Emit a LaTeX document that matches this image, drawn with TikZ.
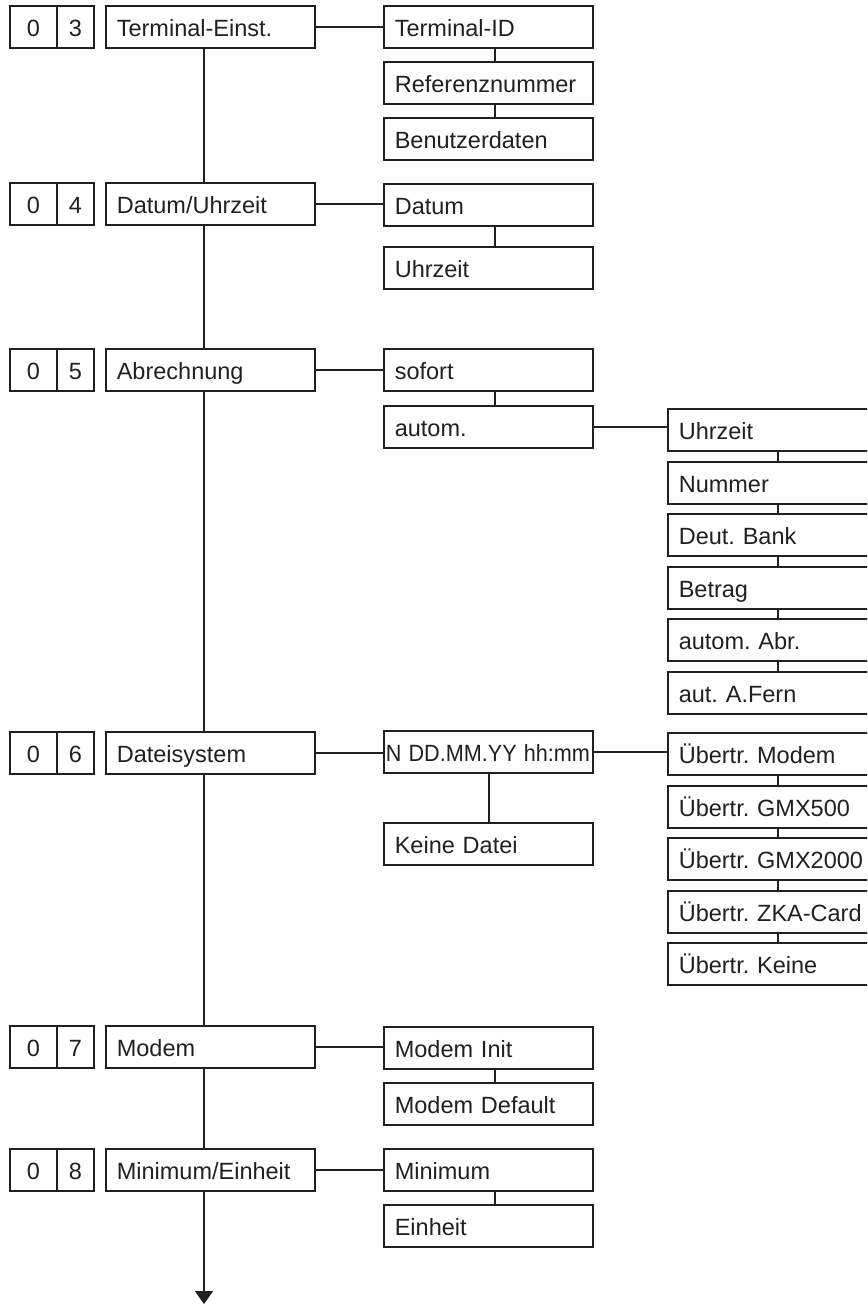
\documentclass[tikz,border=0pt]{standalone}
\usepackage{fontspec}
\usepackage{graphicx}
\setmainfont{Liberation Sans}
\usetikzlibrary{arrows.meta}
\definecolor{ink}{HTML}{231F20}
\frenchspacing
\begin{document}
\begin{tikzpicture}[x=1pt,y=-1pt,
  box/.style={draw=ink,line width=1.6pt,anchor=north west,minimum height=42pt,inner ysep=0pt,inner xsep=11pt,text width=187pt,text height=21pt,text depth=1pt,align=left,font=\fontsize{23.5}{26}\selectfont,text=ink},
  wbox/.style={box,text width=200pt},
  num/.style={draw=ink,line width=1.6pt,anchor=north west,minimum height=42pt,inner sep=0pt,text height=21pt,text depth=1pt,font=\fontsize{23.5}{26}\selectfont,text=ink},
  ln/.style={draw=ink,line width=1.6pt}]
\useasboundingbox (0,0) rectangle (867,1305);
\clip (0,0) rectangle (867,1305);
% spine coordinates
\coordinate (sp) at (204,0);
\coordinate (sc) at (495,0);
\coordinate (sn) at (489,0);
\coordinate (rc) at (778,0);
\coordinate (end) at (204,1304);
% main column
\node[num,minimum width=47pt] (a3) at (9,5) {0};
\node[num,minimum width=37pt] (b3) at (56,5) {3};
\node[box] (m3) at (105,5) {Terminal-Einst.};
\node[num,minimum width=47pt] (a4) at (9,182) {0};
\node[num,minimum width=37pt] (b4) at (56,182) {4};
\node[box] (m4) at (105,182) {Datum/Uhrzeit};
\node[num,minimum width=47pt] (a5) at (9,348) {0};
\node[num,minimum width=37pt] (b5) at (56,348) {5};
\node[box] (m5) at (105,348) {Abrechnung};
\node[num,minimum width=47pt] (a6) at (9,731) {0};
\node[num,minimum width=37pt] (b6) at (56,731) {6};
\node[box] (m6) at (105,731) {Dateisystem};
\node[num,minimum width=47pt] (a7) at (9,1025) {0};
\node[num,minimum width=37pt] (b7) at (56,1025) {7};
\node[box] (m7) at (105,1025) {Modem};
\node[num,minimum width=47pt] (a8) at (9,1148) {0};
\node[num,minimum width=37pt] (b8) at (56,1148) {8};
\node[box] (m8) at (105,1148) {Minimum/Einheit};
% sub column
\node[box] (t1) at (383,5) {Terminal-ID};
\node[box] (t2) at (383,61) {Referenznummer};
\node[box] (t3) at (383,117) {Benutzerdaten};
\node[box] (d1) at (383,183) {Datum};
\node[box] (d2) at (383,246) {Uhrzeit};
\node[box] (s1) at (383,348) {sofort};
\node[box] (s2) at (383,405) {autom.};
\node[box,inner xsep=2pt,text width=205pt] (n1) at (383,730) {\scalebox{0.92}[1]{N DD.MM.YY hh:mm}};
\node[box] (n2) at (383,822) {Keine Datei};
\node[box] (o1) at (383,1026) {Modem Init};
\node[box] (o2) at (383,1082) {Modem Default};
\node[box] (e1) at (383,1148) {Minimum};
\node[box] (e2) at (383,1204) {Einheit};
% right column
\node[wbox] (r1) at (667,408) {Uhrzeit};
\node[wbox] (r2) at (667,461) {Nummer};
\node[wbox] (r3) at (667,513) {Deut. Bank};
\node[wbox] (r4) at (667,566) {Betrag};
\node[wbox] (r5) at (667,618) {autom. Abr.};
\node[wbox] (r6) at (667,671) {aut. A.Fern};
\node[wbox] (u1) at (667,732) {Übertr. Modem};
\node[wbox] (u2) at (667,785) {Übertr. GMX500};
\node[wbox] (u3) at (667,837) {Übertr. GMX2000};
\node[wbox] (u4) at (667,890) {Übertr. ZKA-Card};
\node[wbox] (u5) at (667,942) {Übertr. Keine};
% main spine
\draw[ln] (m3.south -| sp) -- (m4.north -| sp);
\draw[ln] (m4.south -| sp) -- (m5.north -| sp);
\draw[ln] (m5.south -| sp) -- (m6.north -| sp);
\draw[ln] (m6.south -| sp) -- (m7.north -| sp);
\draw[ln] (m7.south -| sp) -- (m8.north -| sp);
\draw[ln,-{Triangle[length=13pt,width=18pt]}] (m8.south -| sp) -- (end);
% horizontal connectors
\draw[ln] (m3.east) -- (m3.east -| t1.west);
\draw[ln] (m4.east) -- (m4.east -| d1.west);
\draw[ln] (m5.east) -- (m5.east -| s1.west);
\draw[ln] (m6.east) -- (m6.east -| n1.west);
\draw[ln] (m7.east) -- (m7.east -| o1.west);
\draw[ln] (m8.east) -- (m8.east -| e1.west);
\draw[ln] (s2.east) -- (s2.east -| r1.west);
\draw[ln] (n1.east) -- (n1.east -| u1.west);
% sub column links
\draw[ln] (t1.south -| sc) -- (t2.north -| sc);
\draw[ln] (t2.south -| sc) -- (t3.north -| sc);
\draw[ln] (d1.south -| sc) -- (d2.north -| sc);
\draw[ln] (s1.south -| sc) -- (s2.north -| sc);
\draw[ln] (n1.south -| sn) -- (n2.north -| sn);
\draw[ln] (o1.south -| sc) -- (o2.north -| sc);
\draw[ln] (e1.south -| sc) -- (e2.north -| sc);
% right column links
\draw[ln] (r1.south -| rc) -- (r2.north -| rc);
\draw[ln] (r2.south -| rc) -- (r3.north -| rc);
\draw[ln] (r3.south -| rc) -- (r4.north -| rc);
\draw[ln] (r4.south -| rc) -- (r5.north -| rc);
\draw[ln] (r5.south -| rc) -- (r6.north -| rc);
\draw[ln] (u1.south -| rc) -- (u2.north -| rc);
\draw[ln] (u2.south -| rc) -- (u3.north -| rc);
\draw[ln] (u3.south -| rc) -- (u4.north -| rc);
\draw[ln] (u4.south -| rc) -- (u5.north -| rc);
\end{tikzpicture}
\end{document}
